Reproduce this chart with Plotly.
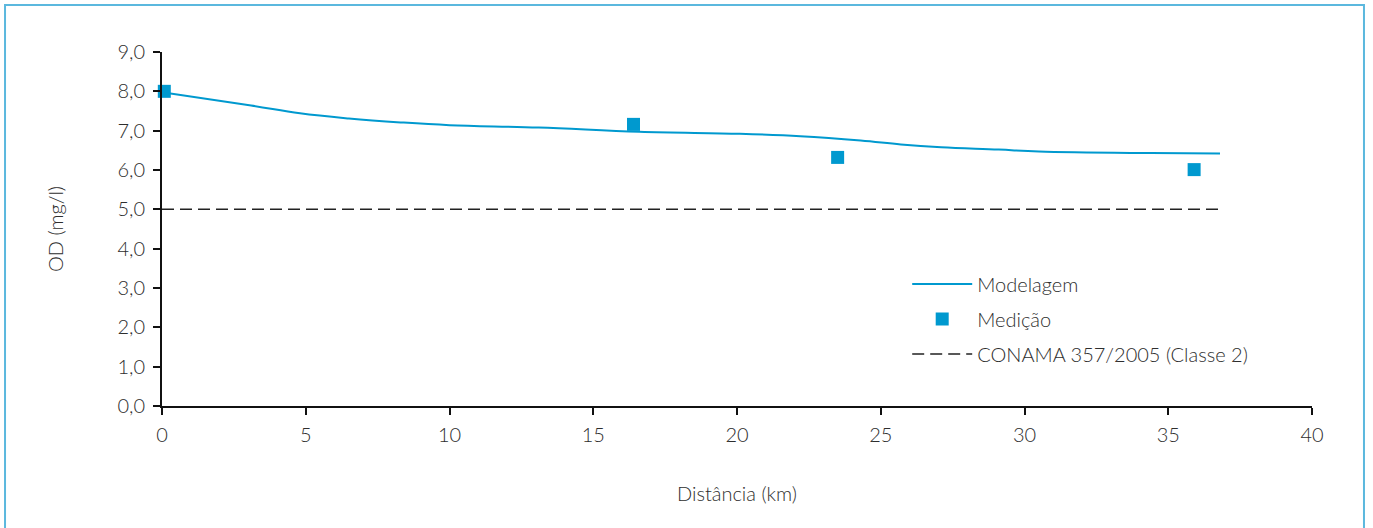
import plotly.graph_objects as go

# Modelled dissolved oxygen profile along the river
model_km = [0, 3.1, 4.8, 6.5, 8.3, 10.0, 13.1, 16.6, 20.1, 22.2, 24.3, 25.7, 27.1, 29.1, 30.5, 34.4, 36.8]
model_od = [7.98, 7.64, 7.44, 7.31, 7.21, 7.14, 7.08, 6.97, 6.92, 6.86, 6.75, 6.65, 6.58, 6.52, 6.47, 6.43, 6.42]

# Field measurements
meas_km = [0.08, 16.4, 23.5, 35.9]
meas_od = [8.0, 7.16, 6.32, 6.01]

# CONAMA 357/2005 Class 2 minimum
limit_km = [0, 36.8]
limit_od = [5.0, 5.0]

y_ticks = [0, 1, 2, 3, 4, 5, 6, 7, 8, 9]
y_tick_text = ["0,0", "1,0", "2,0", "3,0", "4,0", "5,0", "6,0", "7,0", "8,0", "9,0"]
x_ticks = [0, 5, 10, 15, 20, 25, 30, 35, 40]

FONT = "Lato"
TEXT = "#2e2e2e"
BLUE = "#0099CF"
FS = 20

fig = go.Figure()
fig.add_trace(go.Scatter(
    x=model_km, y=model_od, mode="lines", name="Modelagem",
    line=dict(color=BLUE, width=2, shape="spline", smoothing=1.1),
    legendgroup="a",
))
fig.add_trace(go.Scatter(
    x=meas_km, y=meas_od, mode="markers", name="Medição",
    marker=dict(symbol="square", size=13, color=BLUE),
    legendgroup="b", cliponaxis=False,
))
fig.add_trace(go.Scatter(
    x=limit_km, y=limit_od, mode="lines", name="CONAMA 357/2005 (Classe 2)",
    line=dict(color="#222222", width=1.5, dash="12px,6px"),
    legendgroup="c",
))

font_main = dict(family=FONT, size=FS, color=TEXT, weight=300)

axis_common = dict(
    showline=True, linecolor="#111111", linewidth=2,
    ticks="outside", ticklen=7, tickwidth=2, tickcolor="#111111",
    showgrid=False, zeroline=False,
    tickfont=font_main,
)

fig.update_layout(
    width=1373, height=528,
    margin=dict(l=162, r=61, t=52, b=122),
    paper_bgcolor="white", plot_bgcolor="white",
    font=font_main,
    xaxis=dict(
        range=[0, 40], tickvals=x_ticks, ticklabelstandoff=3,
        title=dict(text="Distância (km)", standoff=42, font=font_main),
        **axis_common,
    ),
    yaxis=dict(
        range=[0, 9], tickvals=y_ticks, ticktext=y_tick_text, ticklabelstandoff=4,
        title=dict(text="OD (mg/l)", standoff=48, font=font_main),
        **axis_common,
    ),
    legend=dict(
        x=0.648, y=0.40, xanchor="left", yanchor="top",
        bgcolor="rgba(0,0,0,0)", tracegroupgap=6,
        font=font_main,
        itemwidth=60,
    ),
    showlegend=True,
    shapes=[dict(
        type="rect", xref="paper", yref="paper",
        x0=-0.1365, x1=1.0452, y0=-0.40, y1=1.1328,
        line=dict(color="#5BB8DE", width=2), fillcolor="rgba(0,0,0,0)",
        layer="below",
    )],
)

fig.write_html("out.html")
